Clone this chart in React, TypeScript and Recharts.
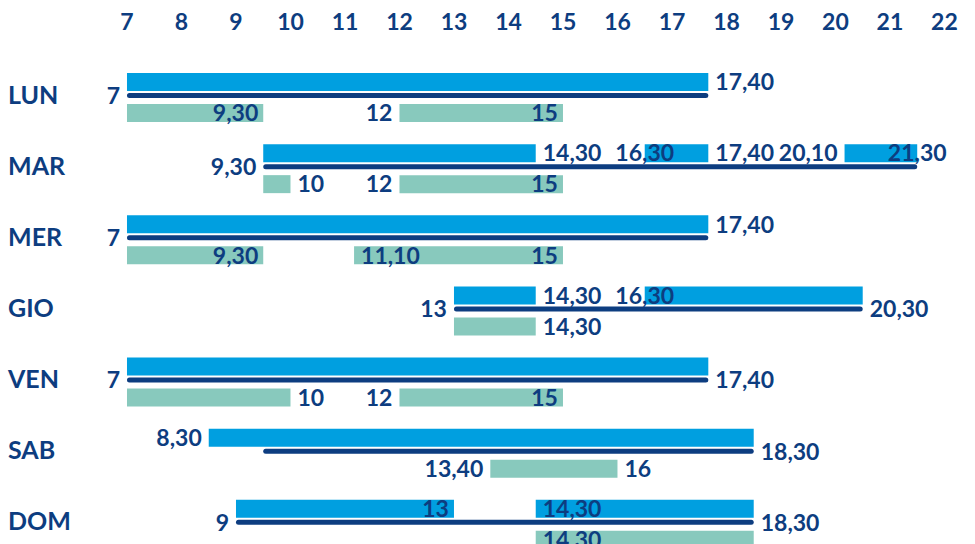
import React from 'react';
import { ComposedChart, Bar, XAxis, YAxis, Scatter } from 'recharts';

// ---- data ----
const days = ['LUN', 'MAR', 'MER', 'GIO', 'VEN', 'SAB', 'DOM'];
const hourTicks = [7, 8, 9, 10, 11, 12, 13, 14, 15, 16, 17, 18, 19, 20, 21, 22];

// opening spans, written as on the chart ("17,40" = 17:40)
const blueSpans: string[][][] = [
  [['7', '17,40']],
  [['9,30', '14,30'], ['16,30', '17,40'], ['20,10', '21,30']],
  [['7', '17,40']],
  [['13', '14,30'], ['16,30', '20,30']],
  [['7', '17,40']],
  [['8,30', '18,30']],
  [['9', '13'], ['14,30', '18,30']],
];
const lineSpans: string[][] = [
  ['7', '17,40'],
  ['9,30', '21,30'],
  ['7', '17,40'],
  ['13', '20,30'],
  ['7', '17,40'],
  ['9,30', '18,30'],
  ['9', '18,30'],
];
const tealSpans: string[][][] = [
  [['7', '9,30'], ['12', '15']],
  [['9,30', '10'], ['12', '15']],
  [['7', '9,30'], ['11,10', '15']],
  [['13', '14,30']],
  [['7', '10'], ['12', '15']],
  [['13,40', '16']],
  [['14,30', '18,30']],
];

type Lane = 'blue' | 'line' | 'teal';
type Side = 'before' | 'after' | 'inEnd' | 'inStart' | 'center';
// [day, time label, lane, side]
const timeLabels: [string, string, Lane, Side][] = [
  ['LUN', '7', 'line', 'before'],
  ['LUN', '17,40', 'blue', 'after'],
  ['LUN', '9,30', 'teal', 'inEnd'],
  ['LUN', '12', 'teal', 'before'],
  ['LUN', '15', 'teal', 'inEnd'],
  ['MAR', '9,30', 'line', 'before'],
  ['MAR', '14,30', 'blue', 'after'],
  ['MAR', '16,30', 'blue', 'center'],
  ['MAR', '17,40', 'blue', 'after'],
  ['MAR', '20,10', 'blue', 'before'],
  ['MAR', '21,30', 'blue', 'center'],
  ['MAR', '10', 'teal', 'after'],
  ['MAR', '12', 'teal', 'before'],
  ['MAR', '15', 'teal', 'inEnd'],
  ['MER', '7', 'line', 'before'],
  ['MER', '17,40', 'blue', 'after'],
  ['MER', '9,30', 'teal', 'inEnd'],
  ['MER', '11,10', 'teal', 'inStart'],
  ['MER', '15', 'teal', 'inEnd'],
  ['GIO', '13', 'line', 'before'],
  ['GIO', '14,30', 'blue', 'after'],
  ['GIO', '16,30', 'blue', 'center'],
  ['GIO', '20,30', 'line', 'after'],
  ['GIO', '14,30', 'teal', 'after'],
  ['VEN', '7', 'line', 'before'],
  ['VEN', '17,40', 'line', 'after'],
  ['VEN', '10', 'teal', 'after'],
  ['VEN', '12', 'teal', 'before'],
  ['VEN', '15', 'teal', 'inEnd'],
  ['SAB', '8,30', 'blue', 'before'],
  ['SAB', '18,30', 'line', 'after'],
  ['SAB', '13,40', 'teal', 'before'],
  ['SAB', '16', 'teal', 'after'],
  ['DOM', '9', 'line', 'before'],
  ['DOM', '13', 'blue', 'inEnd'],
  ['DOM', '14,30', 'blue', 'inStart'],
  ['DOM', '18,30', 'line', 'after'],
  ['DOM', '14,30', 'teal', 'inStart'],
];

// ---- styling ----
const NAVY = '#0d3d80';
const BLUE = '#009fe0';
const TEAL = '#88c9bd';
const FONT = 'Lato, "Open Sans", sans-serif';
const X_DOMAIN: [number, number] = [6.78, 22.23];

const toHour = (s: string) => {
  const [h, m] = s.split(',');
  return Number(h) + (m ? Number(m) / 60 : 0);
};

// build stacked rows (transparent gaps + visible segments)
const rows = days.map((day, i) => {
  const row: Record<string, any> = { day };
  const add = (prefix: string, spans: string[][], n: number) => {
    let prev = 0;
    for (let k = 0; k < n; k++) {
      const sp = spans[k];
      if (sp) {
        const s = toHour(sp[0]);
        const e = toHour(sp[1]);
        row[`${prefix}${k}gap`] = s - prev;
        row[`${prefix}${k}`] = e - s;
        prev = e;
      } else {
        row[`${prefix}${k}gap`] = 0;
        row[`${prefix}${k}`] = 0;
      }
    }
  };
  add('b', blueSpans[i], 3);
  add('l', [lineSpans[i]], 1);
  add('t', tealSpans[i], 2);
  return row;
});

const labelData = timeLabels.map(([day, text, lane, side]) => ({
  day,
  h: toHour(text),
  text,
  lane,
  side,
}));

const LANE_DY: Record<Lane, number> = { blue: -15.5, line: -2, teal: 15.5 };

const LabelShape = (props: any) => {
  const { cx, cy, payload } = props;
  if (cx == null || cy == null) return null;
  const side: Side = payload.side;
  let x = cx;
  let anchor: 'start' | 'end' | 'middle' = 'middle';
  if (side === 'before') { x = cx - 7; anchor = 'end'; }
  else if (side === 'after') { x = cx + 7; anchor = 'start'; }
  else if (side === 'inEnd') { x = cx - 5; anchor = 'end'; }
  else if (side === 'inStart') { x = cx + 7; anchor = 'start'; }
  return (
    <text
      x={x}
      y={cy + LANE_DY[payload.lane as Lane]}
      dy="0.36em"
      textAnchor={anchor}
      fill={NAVY}
      fontFamily={FONT}
      fontWeight={700}
      fontSize={23}
    >
      {payload.text}
    </text>
  );
};

// the line sits in the upper part of its slot
const LineShape = (props: any) => {
  const { x, y, width, height } = props;
  if (!width || width <= 0) return null;
  const h = 5;
  return <rect x={x} y={y} width={width} height={Math.min(h, height)} rx={2.5} ry={2.5} fill={NAVY} />;
};

const HourTick = (props: any) => {
  const { x, payload } = props;
  return (
    <text x={x} y={30} textAnchor="middle" fill={NAVY} fontFamily={FONT} fontWeight={700} fontSize={23}>
      {payload.value}
    </text>
  );
};

const DayTick = (props: any) => {
  const { y, payload } = props;
  return (
    <text x={8} y={y - 3} dy="0.36em" textAnchor="start" fill={NAVY} fontFamily={FONT} fontWeight={700} fontSize={25}>
      {payload.value}
    </text>
  );
};

export default function App() {
  return (
    <div style={{ position: 'absolute', left: 0, top: 0, width: 975, height: 544, background: '#fff' }}>
      <ComposedChart
        width={975}
        height={544}
        data={rows}
        layout="vertical"
        margin={{ top: 0, right: 18, bottom: -16, left: 0 }}
        barGap={2}
      >
        <XAxis
          type="number"
          domain={X_DOMAIN}
          allowDataOverflow
          orientation="top"
          ticks={hourTicks}
          interval={0}
          tickLine={false}
          axisLine={false}
          height={62}
          tick={<HourTick />}
        />
        <XAxis xAxisId="lab" type="number" dataKey="h" domain={X_DOMAIN} hide />
        <YAxis
          type="category"
          dataKey="day"
          width={115}
          tickLine={false}
          axisLine={false}
          tick={<DayTick />}
          interval={0}
        />
        <YAxis yAxisId="lab" type="category" dataKey="day" hide allowDuplicatedCategory={false} />

        {[0, 1, 2].map((k) => [
          <Bar key={`bg${k}`} dataKey={`b${k}gap`} stackId="blue" fill="none" barSize={18} isAnimationActive={false} />,
          <Bar key={`b${k}`} dataKey={`b${k}`} stackId="blue" fill={BLUE} barSize={18} isAnimationActive={false} />,
        ])}
        <Bar dataKey="l0gap" stackId="line" fill="none" barSize={9} isAnimationActive={false} />
        <Bar dataKey="l0" stackId="line" fill={NAVY} barSize={9} shape={<LineShape />} isAnimationActive={false} />
        {[0, 1].map((k) => [
          <Bar key={`tg${k}`} dataKey={`t${k}gap`} stackId="teal" fill="none" barSize={18} isAnimationActive={false} />,
          <Bar key={`t${k}`} dataKey={`t${k}`} stackId="teal" fill={TEAL} barSize={18} isAnimationActive={false} />,
        ])}

        <Scatter
          data={labelData}
          xAxisId="lab"
          yAxisId="lab"
          shape={<LabelShape />}
          isAnimationActive={false}
        />
      </ComposedChart>
    </div>
  );
}
